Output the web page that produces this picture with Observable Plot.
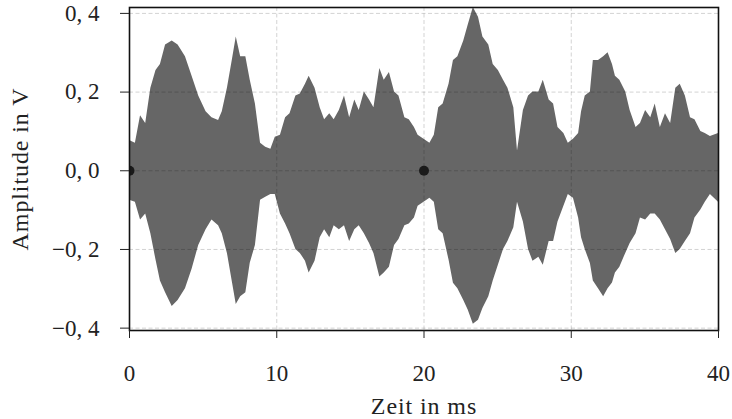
<!DOCTYPE html>
<html>
<head>
<meta charset="utf-8">
<script src="https://cdn.jsdelivr.net/npm/d3@7"></script>
<script src="https://cdn.jsdelivr.net/npm/@observablehq/plot@0.6"></script>
<style>
  html, body { margin: 0; padding: 0; background: #fff; }
  g[aria-label="x-axis label"] text, g[aria-label="y-axis label"] text { font-size: 24px; letter-spacing: 0.9px; }
</style>
</head>
<body>
<div id="chart"></div>
<script>
// Time (ms) of each envelope reading
const timeMs = [0, 0.4, 0.75, 1.1, 1.45, 1.8, 2.1, 2.45, 2.9, 3.3, 3.8, 4.25, 4.7, 5.2, 5.6, 6.05, 6.3, 6.65, 7.0, 7.25, 7.55, 7.9, 8.2, 8.55, 8.9, 9.25, 9.6, 9.9, 10.25, 10.6, 10.9, 11.3, 11.6, 11.95, 12.2, 12.6, 12.95, 13.25, 13.6, 13.9, 14.25, 14.6, 14.95, 15.3, 15.6, 15.95, 16.3, 16.6, 17.0, 17.3, 17.65, 18.0, 18.3, 18.7, 19.0, 19.35, 19.6, 20.0, 20.4, 20.7, 21.0, 21.3, 21.7, 22.0, 22.3, 22.7, 23.0, 23.35, 23.7, 24.0, 24.4, 24.7, 25.05, 25.4, 25.7, 26.1, 26.35, 26.75, 27.1, 27.4, 27.8, 28.1, 28.5, 28.8, 29.1, 29.5, 29.8, 30.15, 30.5, 30.7, 30.95, 31.3, 31.5, 31.85, 32.2, 32.5, 32.8, 33.0, 33.3, 33.7, 34.0, 34.4, 34.7, 35.05, 35.4, 35.7, 36.05, 36.4, 36.75, 37.1, 37.4, 37.75, 38.1, 38.4, 38.8, 39.1, 39.45, 40];
// Upper envelope of the signal (V)
const upperV = [0.077, 0.07, 0.14, 0.12, 0.21, 0.255, 0.27, 0.32, 0.33, 0.32, 0.29, 0.24, 0.19, 0.15, 0.135, 0.128, 0.15, 0.21, 0.285, 0.34, 0.29, 0.29, 0.23, 0.17, 0.07, 0.06, 0.055, 0.085, 0.09, 0.135, 0.145, 0.19, 0.195, 0.22, 0.24, 0.21, 0.16, 0.13, 0.145, 0.13, 0.153, 0.19, 0.135, 0.18, 0.153, 0.2, 0.18, 0.16, 0.26, 0.23, 0.25, 0.2, 0.19, 0.135, 0.13, 0.11, 0.09, 0.08, 0.07, 0.09, 0.16, 0.17, 0.22, 0.28, 0.29, 0.33, 0.37, 0.415, 0.39, 0.34, 0.32, 0.27, 0.255, 0.23, 0.21, 0.16, 0.05, 0.153, 0.19, 0.2, 0.2, 0.23, 0.18, 0.17, 0.11, 0.095, 0.07, 0.08, 0.095, 0.15, 0.19, 0.2, 0.28, 0.28, 0.29, 0.3, 0.27, 0.24, 0.23, 0.2, 0.153, 0.11, 0.12, 0.153, 0.135, 0.17, 0.11, 0.145, 0.12, 0.21, 0.22, 0.19, 0.135, 0.13, 0.1, 0.095, 0.087, 0.095];
// Lower envelope of the signal (V)
const lowerV = [-0.075, -0.08, -0.125, -0.11, -0.16, -0.227, -0.28, -0.31, -0.345, -0.33, -0.30, -0.25, -0.19, -0.15, -0.125, -0.14, -0.16, -0.21, -0.286, -0.34, -0.32, -0.31, -0.235, -0.19, -0.075, -0.067, -0.06, -0.06, -0.11, -0.135, -0.16, -0.2, -0.21, -0.23, -0.26, -0.23, -0.17, -0.15, -0.17, -0.14, -0.15, -0.14, -0.18, -0.15, -0.14, -0.16, -0.185, -0.21, -0.27, -0.26, -0.245, -0.19, -0.175, -0.14, -0.135, -0.12, -0.09, -0.08, -0.07, -0.08, -0.15, -0.16, -0.227, -0.286, -0.3, -0.33, -0.354, -0.39, -0.38, -0.35, -0.32, -0.28, -0.24, -0.2, -0.18, -0.145, -0.08, -0.13, -0.2, -0.23, -0.22, -0.24, -0.18, -0.18, -0.13, -0.09, -0.06, -0.07, -0.12, -0.17, -0.2, -0.236, -0.28, -0.3, -0.32, -0.3, -0.285, -0.26, -0.245, -0.21, -0.185, -0.16, -0.12, -0.125, -0.11, -0.11, -0.125, -0.15, -0.175, -0.21, -0.2, -0.18, -0.16, -0.12, -0.1, -0.08, -0.06, -0.08];

// Marked points
const markTimes = [0, 20];
const markValues = [0, 0];

// Ticks
const xTicks = [0, 10, 20, 30, 40];
const xTickLabels = ["0", "10", "20", "30", "40"];
const yTicks = [-0.4, -0.2, 0, 0.2, 0.4];
const yTickLabels = ["\u22120, 4", "\u22120, 2", "0, 0", "0, 2", "0, 4"];

const signal = timeMs.map((t, i) => ({t, hi: upperV[i], lo: lowerV[i]}));
const marks = markTimes.map((t, i) => ({t, v: markValues[i]}));

const gridStyle = {stroke: "#000", strokeOpacity: 0.2, strokeWidth: 0.9, strokeDasharray: "4,2.5"};

const chart = Plot.plot({
  width: 732,
  height: 419,
  marginLeft: 129,
  marginRight: 14,
  marginTop: 7,
  marginBottom: 89,
  style: {fontFamily: "'Liberation Serif', 'DejaVu Serif', serif", fontSize: "23px", color: "#222", background: "#fff"},
  x: {domain: [0, 40]},
  y: {domain: [-0.406, 0.415]},
  marks: [
    Plot.areaY(signal, {x: "t", y1: "lo", y2: "hi", fill: "#666", clip: true}),
    Plot.gridX(xTicks, gridStyle),
    Plot.gridY(yTicks, gridStyle),
    Plot.dot(marks, {x: "t", y: "v", r: 5, fill: "#1a1a1a", stroke: "none", clip: true}),
    Plot.frame({stroke: "#111", strokeWidth: 1.6}),
    Plot.axisX(xTicks, {tickSize: 8, tickPadding: 26, tickFormat: (d, i) => xTickLabels[i],
      label: "Zeit in ms", labelAnchor: "center", labelOffset: 83, labelArrow: "none"}),
    Plot.axisY(yTicks, {tickSize: 9, tickPadding: 21, tickFormat: (d, i) => yTickLabels[i],
      label: "Amplitude in V", labelAnchor: "center", labelOffset: 119, labelArrow: "none"})
  ]
});
document.getElementById("chart").appendChild(chart);
</script>
</body>
</html>
